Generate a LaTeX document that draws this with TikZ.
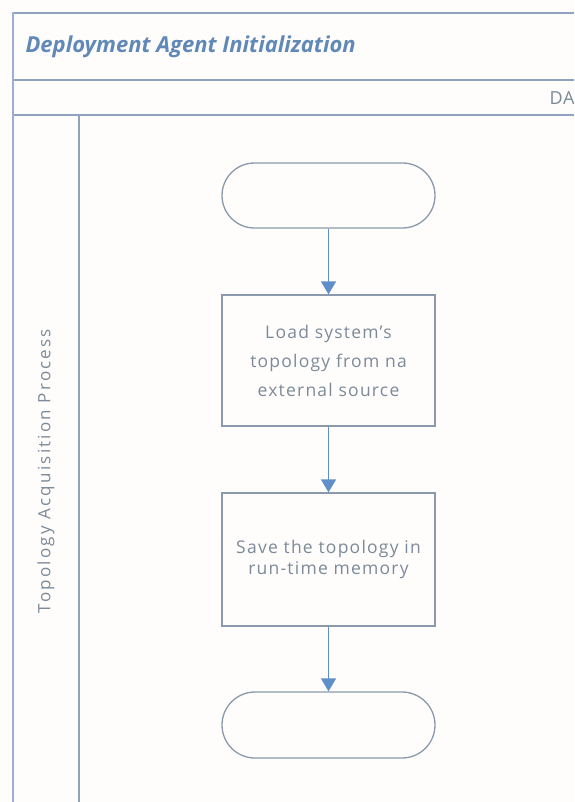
\documentclass[tikz,border=0pt]{standalone}
\usepackage{fontspec}
\setmainfont{Open Sans}
\usetikzlibrary{arrows.meta,shapes.misc}
\definecolor{framecol}{HTML}{8FA3BE}
\definecolor{edgecol}{HTML}{9AAFD6}
\definecolor{shapecol}{HTML}{8A9AAC}
\definecolor{flowcol}{HTML}{5F8FC8}
\definecolor{titlecol}{HTML}{6089B8}
\definecolor{textcol}{HTML}{7C8A9A}
\definecolor{papercol}{HTML}{FEFDFB}
\tikzset{
  frameline/.style={draw=framecol, line width=1.3pt},
  processbox/.style={draw=shapecol, line width=1.3pt, rectangle,
    minimum width=213pt, align=center, inner sep=4pt,
    font=\fontsize{17.5}{29}\selectfont\addfontfeature{LetterSpace=7}, text=textcol},
  terminal/.style={draw=shapecol, line width=1.3pt, rounded rectangle,
    minimum width=213pt, inner sep=0pt},
  flow/.style={draw=flowcol, line width=1.4pt,
    -{Triangle[width=15pt,length=13pt]}},
}
\begin{document}
\begin{tikzpicture}[x=1pt,y=-1pt]
  % page area
  \fill[papercol] (0,0) rectangle (574,802);
  \useasboundingbox (0,0) rectangle (574,802);

  % pool frame, title band, header band and lane divider
  \draw[frameline] (13,13) -- (574,13);
  \draw[frameline] (13,80) -- (574,80);
  \draw[frameline] (13,115) -- (574,115);
  \draw[draw=edgecol, line width=2pt] (13,802) -- (13,12);
  \draw[frameline] (79,115) -- (79,802);

  % titles
  \node[anchor=west, text=titlecol, font=\fontsize{22}{26}\selectfont\bfseries\itshape]
    (title) at (22,47) {Deployment Agent Initialization};
  \node[anchor=west, text=textcol, font=\fontsize{18}{20}\selectfont\addfontfeature{LetterSpace=5}]
    (lanehead) at (546,98) {DA};
  \node[rotate=90, text=textcol, font=\fontsize{17}{19}\selectfont\addfontfeature{LetterSpace=13}]
    (lanelabel) at (46,471) {Topology Acquisition Process};

  % flow shapes
  \node[terminal, minimum height=65pt] (start) at (328.5,195.5) {};
  \node[processbox, minimum height=131pt] (load) at (328.5,360.5)
    {Load system’s\\topology from na\\external source};
  \node[processbox, minimum height=133pt, font=\fontsize{17.5}{21}\selectfont\addfontfeature{LetterSpace=7}] (save) at (328.5,559.5)
    {Save the topology in\\run-time memory};
  \node[terminal, minimum height=66pt] (stop) at (328.5,725) {};

  % connectors
  \draw[flow] (start) -- (load);
  \draw[flow] (load) -- (save);
  \draw[flow] (save) -- (stop);
\end{tikzpicture}
\end{document}
